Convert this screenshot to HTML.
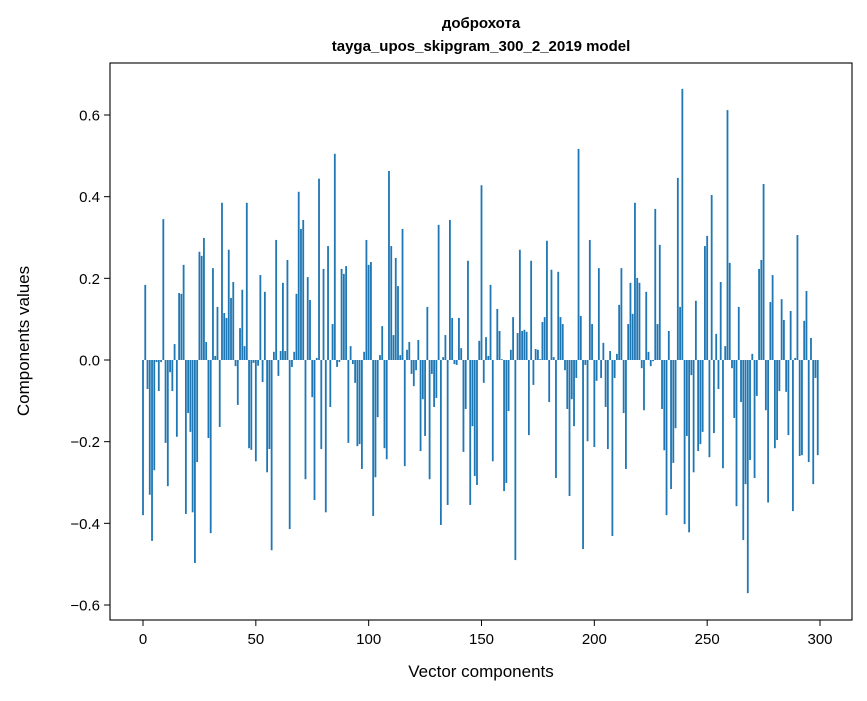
<!DOCTYPE html>
<html><head><meta charset="utf-8"><style>
html,body{margin:0;padding:0;background:#fff;}
svg text{font-family:"Liberation Sans","DejaVu Sans",sans-serif;fill:#000;}
</style></head><body>
<svg id="chart" width="867" height="696" xmlns="http://www.w3.org/2000/svg">
<rect x="0" y="0" width="867" height="696" fill="#fff"/>
<text x="481" y="28" text-anchor="middle" font-size="15" font-weight="bold">доброхота</text>
<text x="481" y="51" text-anchor="middle" font-size="15" font-weight="bold">tayga_upos_skipgram_300_2_2019 model</text>
<g id="bars"></g>
<rect x="110" y="63" width="742" height="557" fill="none" stroke="#000" stroke-width="1.1"/>
<g id="xaxis"></g>
<g id="yaxis"></g>
<text x="481" y="677" text-anchor="middle" font-size="17">Vector components</text>
<text transform="translate(29,341) rotate(-90)" text-anchor="middle" font-size="17">Components values</text>
</svg>
<script>
const values = [-0.38,0.184,-0.071,-0.33,-0.443,-0.27,-0.005,-0.076,-0.005,0.345,-0.203,-0.309,-0.03,-0.076,0.039,-0.188,0.164,0.162,0.233,-0.377,-0.13,-0.176,-0.373,-0.497,-0.25,0.265,0.255,0.299,0.044,-0.191,-0.424,0.225,0.01,0.13,-0.164,0.385,0.115,0.103,0.27,0.152,0.191,-0.015,-0.11,0.078,0.172,0.034,0.385,-0.216,-0.22,-0.007,-0.248,
-0.014,0.208,-0.054,0.167,-0.275,-0.218,-0.466,0.02,0.294,-0.039,0.022,0.189,0.022,0.245,-0.414,-0.017,0.02,0.162,0.412,0.321,0.343,-0.292,0.203,0.147,-0.091,-0.343,0.005,0.444,-0.218,0.223,-0.373,0.279,-0.115,0.088,0.505,-0.017,-0.005,0.223,0.211,0.23,-0.203,0.034,-0.01,-0.056,-0.211,-0.206,-0.267,0.02,0.294,0.233,
0.24,-0.382,-0.287,-0.14,0.012,0.083,-0.216,-0.243,0.463,0.279,0.061,0.25,0.181,0.012,0.321,-0.26,0.025,0.044,-0.034,-0.064,-0.025,0.049,-0.223,-0.096,-0.186,0.13,-0.292,-0.034,-0.115,-0.093,0.331,-0.404,0.007,0.061,-0.355,0.343,0.103,-0.01,-0.012,0.103,0.029,-0.225,-0.12,0.243,-0.355,-0.162,-0.284,-0.306,0.047,0.428,
-0.056,0.056,0.01,0.184,-0.248,0.0,0.125,0.071,0.002,-0.321,-0.301,-0.125,0.025,0.105,-0.49,0.066,0.27,0.071,0.074,0.069,-0.184,0.243,-0.061,0.027,0.025,0.002,0.093,0.105,0.292,-0.103,0.221,0.007,-0.289,0.216,0.105,0.088,-0.025,-0.12,-0.333,-0.096,-0.162,-0.044,0.517,0.108,-0.463,-0.012,-0.199,0.294,0.088,-0.213,
-0.051,0.225,-0.044,0.042,-0.115,-0.218,0.022,-0.431,-0.044,0.015,0.135,0.225,-0.13,-0.267,0.088,0.189,0.113,0.385,0.201,0.189,-0.02,-0.123,0.167,0.02,-0.015,-0.003,0.37,0.088,0.282,-0.12,-0.221,-0.38,0.071,-0.316,-0.252,-0.167,0.446,0.13,0.664,-0.402,-0.186,-0.422,-0.037,-0.275,0.145,-0.223,-0.206,-0.176,0.279,0.304,
-0.238,0.404,-0.179,0.064,-0.071,0.191,-0.265,0.034,0.612,0.238,-0.02,-0.142,-0.358,0.13,-0.103,-0.441,-0.304,-0.571,-0.245,0.015,-0.289,-0.088,0.223,0.245,0.431,-0.123,-0.349,0.142,0.208,-0.216,-0.196,-0.076,0.149,0.098,-0.078,-0.184,0.12,-0.37,0.005,0.306,-0.235,-0.233,0.096,0.169,-0.25,0.054,-0.304,-0.044,-0.233];
const xTicks = [0,50,100,150,200,250,300];
const yTicks = [-0.6,-0.4,-0.2,0.0,0.2,0.4,0.6];
const yTickLabels = ["\u22120.6","\u22120.4","\u22120.2","0.0","0.2","0.4","0.6"];

const NS = "http://www.w3.org/2000/svg";
const X = v => 143 + v * (677 / 300);
const Y = v => 360 - v * (245 / 0.6);
const bw = 0.8 * (677 / 300);
const gb = document.getElementById('bars');
values.forEach((v, i) => {
  const r = document.createElementNS(NS, 'rect');
  const y0 = Y(Math.max(v, 0)), y1 = Y(Math.min(v, 0));
  r.setAttribute('x', X(i) - bw / 2);
  r.setAttribute('y', y0);
  r.setAttribute('width', bw);
  r.setAttribute('height', Math.max(y1 - y0, 0.01));
  r.setAttribute('fill', '#1f77b4');
  
  
  gb.appendChild(r);
});
const gx = document.getElementById('xaxis');
xTicks.forEach(t => {
  const l = document.createElementNS(NS, 'line');
  l.setAttribute('x1', X(t)); l.setAttribute('x2', X(t));
  l.setAttribute('y1', 620); l.setAttribute('y2', 626);
  l.setAttribute('stroke', '#000');
  
  
  gx.appendChild(l);
  const tx = document.createElementNS(NS, 'text');
  tx.setAttribute('x', X(t)); tx.setAttribute('y', 644);
  tx.setAttribute('text-anchor', 'middle'); tx.setAttribute('font-size', '15');
  tx.textContent = String(t);
  
  
  gx.appendChild(tx);
});
const gy = document.getElementById('yaxis');
yTicks.forEach((t, k) => {
  const l = document.createElementNS(NS, 'line');
  l.setAttribute('x1', 104); l.setAttribute('x2', 110);
  l.setAttribute('y1', Y(t)); l.setAttribute('y2', Y(t));
  l.setAttribute('stroke', '#000');
  
  
  gy.appendChild(l);
  const tx = document.createElementNS(NS, 'text');
  tx.setAttribute('x', 100); tx.setAttribute('y', Y(t) + 5.5);
  tx.setAttribute('text-anchor', 'end'); tx.setAttribute('font-size', '15');
  tx.textContent = yTickLabels[k];
  
  
  gy.appendChild(tx);
});
</script>
</body></html>
